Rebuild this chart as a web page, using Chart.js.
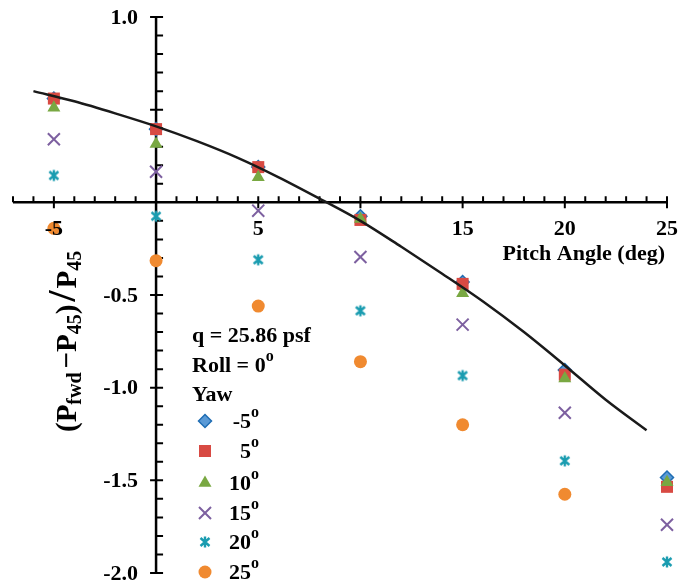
<!DOCTYPE html>
<html>
<head>
<meta charset="utf-8">
<script src="https://cdn.jsdelivr.net/npm/chart.js@4.4.1/dist/chart.umd.min.js"></script>
<style>
  html, body { margin: 0; padding: 0; background: #fff; }
  #wrap { width: 692px; height: 586px; }
</style>
</head>
<body>
<div id="wrap"><canvas id="chart"></canvas></div>
<script>
// pitch angles (deg) at which the probe was read
const pitch = [-5, 0, 5, 10, 15, 20, 25];

// (Pfwd - P45) / P45 for each yaw angle
const yawNeg5 = [0.56, 0.395, 0.19, -0.075, -0.43, -0.905, -1.485];
const yaw5    = [0.56, 0.395, 0.19, -0.095, -0.44, -0.93, -1.535];
const yaw10   = [0.51, 0.315, 0.135, -0.09, -0.49, -0.95, -1.51];
const yaw15   = [0.34, 0.165, -0.045, -0.295, -0.66, -1.135, -1.74];
const yaw20   = [0.145, -0.075, -0.31, -0.585, -0.935, -1.395, -1.94];
const yaw25   = [-0.14, -0.315, -0.56, -0.86, -1.20, -1.575, null];

// black fitted curve
const fitPitch  = [-6, -4, -2, 0, 2, 4, 6, 8, 10, 12, 14, 16, 18, 20, 22, 24];
const fitValues = [0.60, 0.545, 0.48, 0.41, 0.33, 0.24, 0.135, 0.02, -0.10, -0.24, -0.385, -0.535, -0.70, -0.88, -1.065, -1.23];

// 0 and 10 are not labelled in the original
const xTickLabels = [-5, 5, 15, 20, 25];
const yTickLabels = [1.0, -0.5, -1.0, -1.5, -2.0];

const SERIF = '"Liberation Serif", "DejaVu Serif", serif';

function pts(ys) {
  return pitch.map((x, i) => ({ x: x, y: ys[i] }));
}

// asterisk marker, like the spreadsheet "star"
function makeAsterisk(color) {
  const c = document.createElement('canvas');
  c.width = 14; c.height = 14;
  const g = c.getContext('2d');
  g.strokeStyle = color;
  g.lineWidth = 2.4;
  g.beginPath();
  g.moveTo(7, 1.5); g.lineTo(7, 12.5);
  g.moveTo(2.5, 3); g.lineTo(11.5, 11);
  g.moveTo(11.5, 3); g.lineTo(2.5, 11);
  g.stroke();
  return c;
}
const asterisk = makeAsterisk('#1a9cb0');

const series = [
  { label: '-5', data: yawNeg5, style: 'rectRot', radius: 6.5, bg: '#5a9ad6', border: '#1f6db3', bw: 1.5, order: 3 },
  { label: '5',  data: yaw5,  style: 'rect', radius: 8.5, bg: '#d84a43', border: '#d84a43', bw: 0, order: 2 },
  { label: '10', data: yaw10, style: 'triangle', radius: 7.5, bg: '#79a842', border: '#79a842', bw: 0, order: 1 },
  { label: '15', data: yaw15, style: 'crossRot', radius: 8.5, bg: '#7d60a0', border: '#7d60a0', bw: 2, order: 4 },
  { label: '20', data: yaw20, style: asterisk, radius: 7, bg: '#1a9cb0', border: '#1a9cb0', bw: 2, order: 5 },
  { label: '25', data: yaw25, style: 'circle', radius: 6.5, bg: '#f08a30', border: '#f08a30', bw: 0, order: 6 }
];

const datasets = series.map(s => ({
  label: s.label,
  data: pts(s.data),
  pointStyle: s.style,
  pointRadius: s.radius,
  pointHoverRadius: s.radius,
  backgroundColor: s.bg,
  borderColor: s.border,
  pointBorderWidth: s.bw,
  showLine: false,
  order: s.order
}));

datasets.push({
  label: 'fit',
  data: fitPitch.map((x, i) => ({ x: x, y: fitValues[i] })),
  showLine: true,
  borderColor: '#1a1a1a',
  borderWidth: 2.5,
  pointRadius: 0,
  cubicInterpolationMode: 'monotone',
  order: 0
});

// draw a row of text pieces, each with its own size and vertical shift
function drawRuns(ctx, x, y, runs) {
  let cx = x;
  runs.forEach(r => {
    ctx.font = 'bold ' + r.size + 'px ' + SERIF;
    ctx.fillText(r.t, cx, y + (r.dy || 0));
    cx += ctx.measureText(r.t).width + (r.gap || 0);
  });
  return cx;
}

const axesPlugin = {
  id: 'crossAxes',
  beforeDatasetsDraw(chart) {
    const ctx = chart.ctx;
    const xs = chart.scales.x, ys = chart.scales.y;
    const x0 = xs.getPixelForValue(0), y0 = ys.getPixelForValue(0);
    ctx.save();
    ctx.strokeStyle = '#000';
    ctx.lineWidth = 2.5;
    ctx.beginPath();
    ctx.moveTo(xs.getPixelForValue(xs.min), y0);
    ctx.lineTo(xs.getPixelForValue(xs.max), y0);
    ctx.moveTo(x0, ys.getPixelForValue(ys.max));
    ctx.lineTo(x0, ys.getPixelForValue(ys.min));
    ctx.stroke();
    ctx.lineWidth = 2;
    ctx.beginPath();
    // x ticks every 1 deg, major every 5
    for (let v = Math.ceil(xs.min); v <= xs.max; v++) {
      if (v === 0) continue;
      const px = xs.getPixelForValue(v);
      const major = v % 5 === 0;
      ctx.moveTo(px, y0 - 6);
      ctx.lineTo(px, major ? y0 + 6 : y0);
    }
    // y ticks every 0.1, major every 0.5
    for (let k = Math.round(ys.min * 10); k <= Math.round(ys.max * 10); k++) {
      if (k === 0) continue;
      const py = ys.getPixelForValue(k / 10);
      const major = k % 5 === 0;
      ctx.moveTo(major ? x0 - 6 : x0, py);
      ctx.lineTo(x0 + 7, py);
    }
    ctx.stroke();
    ctx.restore();
  },
  afterDatasetsDraw(chart) {
    const ctx = chart.ctx;
    const xs = chart.scales.x, ys = chart.scales.y;
    const x0 = xs.getPixelForValue(0), y0 = ys.getPixelForValue(0);
    ctx.save();
    ctx.fillStyle = '#000';
    ctx.font = 'bold 22px ' + SERIF;
    ctx.textBaseline = 'middle';
    ctx.textAlign = 'center';
    xTickLabels.forEach(v => {
      ctx.fillText(String(v), xs.getPixelForValue(v), y0 + 27);
    });
    ctx.textAlign = 'right';
    yTickLabels.forEach(v => {
      ctx.fillText(v.toFixed(1), x0 - 18, ys.getPixelForValue(v) + 1);
    });

    // x axis title
    ctx.fillText('Pitch Angle (deg)', 665, 254);

    // y axis title, rotated
    ctx.save();
    ctx.translate(76, 432);
    ctx.rotate(-Math.PI / 2);
    ctx.textAlign = 'left';
    ctx.textBaseline = 'alphabetic';
    let cx = drawRuns(ctx, 0, 0, [
      { t: '(P', size: 29 },
      { t: 'fwd', size: 20, dy: 5, gap: 4 },
      { t: '\u2212P', size: 29 },
      { t: '45', size: 20, dy: 5 },
      { t: ')', size: 29, gap: 3 }
    ]);
    cx = drawRuns(ctx, cx, -1, [{ t: '/', size: 40, gap: 2 }]);
    drawRuns(ctx, cx, 0, [
      { t: 'P', size: 29 },
      { t: '45', size: 20, dy: 5 }
    ]);
    ctx.restore();

    // legend block
    ctx.textAlign = 'left';
    ctx.textBaseline = 'middle';
    drawRuns(ctx, 192, 336, [{ t: 'q = 25.86 psf', size: 22 }]);
    drawRuns(ctx, 192, 366, [{ t: 'Roll = 0', size: 22 }, { t: 'o', size: 16, dy: -9 }]);
    drawRuns(ctx, 192, 395, [{ t: 'Yaw', size: 22 }]);

    const rowY = [421, 451, 483, 513, 542, 572];
    series.forEach((s, i) => {
      const y = rowY[i];
      ctx.save();
      ctx.fillStyle = s.bg;
      ctx.strokeStyle = s.border;
      ctx.lineWidth = s.bw;
      if (typeof s.style === 'string') {
        Chart.helpers.drawPoint(ctx, { pointStyle: s.style, radius: s.radius, borderWidth: s.bw, rotation: 0 }, 205, y);
      } else {
        ctx.drawImage(s.style, 205 - 7, y - 7);
      }
      ctx.restore();
      ctx.fillStyle = '#000';
      ctx.font = 'bold 22px ' + SERIF;
      const w = ctx.measureText(s.label).width;
      drawRuns(ctx, 251 - w, y + 1, [{ t: s.label, size: 22 }, { t: 'o', size: 16, dy: -9 }]);
    });
    ctx.restore();
  }
};

new Chart(document.getElementById('chart'), {
  type: 'scatter',
  data: { datasets: datasets },
  options: {
    responsive: true,
    maintainAspectRatio: false,
    animation: false,
    events: [],
    layout: { padding: { left: 13, right: 25, top: 17, bottom: 13 } },
    plugins: { legend: { display: false }, tooltip: { enabled: false } },
    scales: {
      x: { type: 'linear', display: false, min: -7, max: 25 },
      y: { type: 'linear', display: false, min: -2, max: 1 }
    },
    elements: { point: { hitRadius: 0 } },
    clip: false
  },
  plugins: [axesPlugin]
});
</script>
</body>
</html>
